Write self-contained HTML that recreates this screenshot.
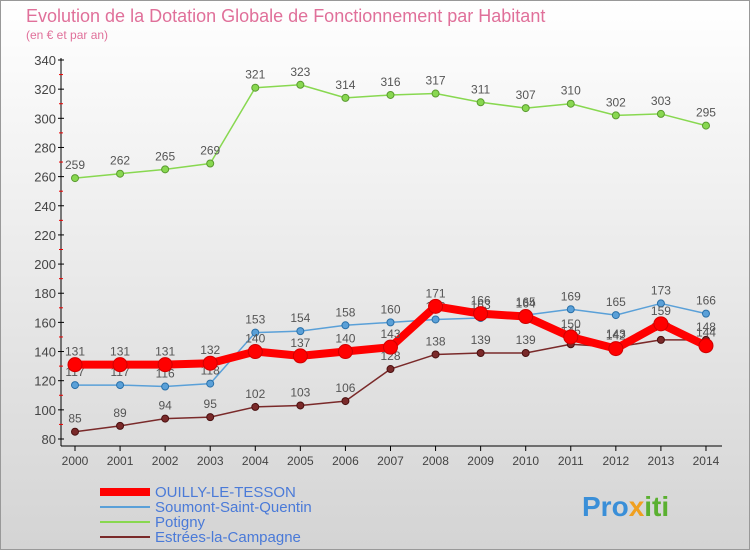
<!DOCTYPE html>
<html><head><meta charset="utf-8"><style>
body{margin:0;width:750px;height:550px;overflow:hidden;font-family:"Liberation Sans",sans-serif}
#c{position:absolute;left:0;top:0}
</style></head><body>
<svg id="c" width="750" height="550">
<defs><linearGradient id="bg" x1="0" y1="0" x2="0" y2="1"><stop offset="0" stop-color="#ffffff"/><stop offset="1" stop-color="#d4d4d4"/></linearGradient></defs>
<rect x="0.5" y="0.5" width="749" height="549" fill="url(#bg)" stroke="#999"/>
<text x="26" y="22" font-size="18" fill="#e0709a">Evolution de la Dotation Globale de Fonctionnement par Habitant</text>
<text x="26" y="39" font-size="12" fill="#e0709a">(en € et par an)</text>
<g id="plot"></g>
<g id="legend"></g>
<text x="582" y="516" font-size="28" font-weight="bold" fill="#3a8fd8">Pro<tspan fill="#f0a020">x</tspan><tspan fill="#5ab030">iti</tspan></text>
</svg>
<script>
const years=[2000,2001,2002,2003,2004,2005,2006,2007,2008,2009,2010,2011,2012,2013,2014];
const ouilly=[131,131,131,132,140,137,140,143,171,166,164,150,142,159,144];
const soumont=[117,117,116,118,153,154,158,160,162,163,165,169,165,173,166];
const potigny=[259,262,265,269,321,323,314,316,317,311,307,310,302,303,295];
const estrees=[85,89,94,95,102,103,106,128,138,139,139,145,143,148,148];
const yTicks=[80,100,120,140,160,180,200,220,240,260,280,300,320,340];
const NS="http://www.w3.org/2000/svg";
const g=document.getElementById('plot');
function X(i){return 75+i*45.07;}
function Y(v){return 439-(v-80)*1.4577;}
function el(t,a,p){const e=document.createElementNS(NS,t);for(const k in a)e.setAttribute(k,a[k]);(p||g).appendChild(e);return e;}
let ax=el('line',{x1:61,y1:58,x2:61,y2:446,stroke:'#000'});

let bx=el('line',{x1:61,y1:446,x2:722,y2:446,stroke:'#000'});

yTicks.forEach(v=>{
 el('line',{x1:58,y1:Y(v),x2:64,y2:Y(v),stroke:'#000'});
 if(v<340)el('line',{x1:59,y1:Y(v+10),x2:63,y2:Y(v+10),stroke:'#e00'});
 const t=el('text',{x:56,y:Y(v)+5,'font-size':13,fill:'#444','text-anchor':'end'});
 t.textContent=v;
 
});
years.forEach((y,i)=>{
 el('line',{x1:X(i),y1:446,x2:X(i),y2:451,stroke:'#000'});
 const t=el('text',{x:X(i),y:465,'font-size':12,fill:'#444','text-anchor':'middle'});
 t.textContent=y;
 
});
function series(data,color,w,r,dark,name){
 const sg=el('g',{});
 
 el('polyline',{points:data.map((v,i)=>X(i)+','+Y(v)).join(' '),fill:'none',stroke:color,'stroke-width':w,'stroke-linejoin':'round'},sg);
 data.forEach((v,i)=>{
  const c=el('circle',{cx:X(i),cy:Y(v),r:r,fill:color,stroke:dark,'stroke-width':1},sg);
  
  const t=el('text',{x:X(i),y:Y(v)-9,'font-size':12,fill:'#555','text-anchor':'middle'},sg);
  t.textContent=v;
  
 });
}
series(potigny,'#88d850',1.5,3.5,'#5a9a30','potigny');
series(estrees,'#7a2a2a',1.5,3.5,'#4a1010','estrees');
series(soumont,'#5aa0d8',1.5,3.5,'#2a70a8','soumont');
series(ouilly,'#ff0000',8,7,'#d00000','ouilly');
const lg=document.getElementById('legend');
const leg=[['OUILLY-LE-TESSON','#ff0000',8],['Soumont-Saint-Quentin','#5aa0d8',2],['Potigny','#88d850',2],['Estrées-la-Campagne','#7a2a2a',2]];
leg.forEach((l,i)=>{
 const y=492+i*15;
 const e=el('g',{},lg);
 
 el('line',{x1:100,y1:y,x2:150,y2:y,stroke:l[1],'stroke-width':l[2]},e);
 const t=el('text',{x:155,y:y+5,'font-size':15,fill:'#4a7ad8'},e);
 t.textContent=l[0];
});
</script>
</body></html>
